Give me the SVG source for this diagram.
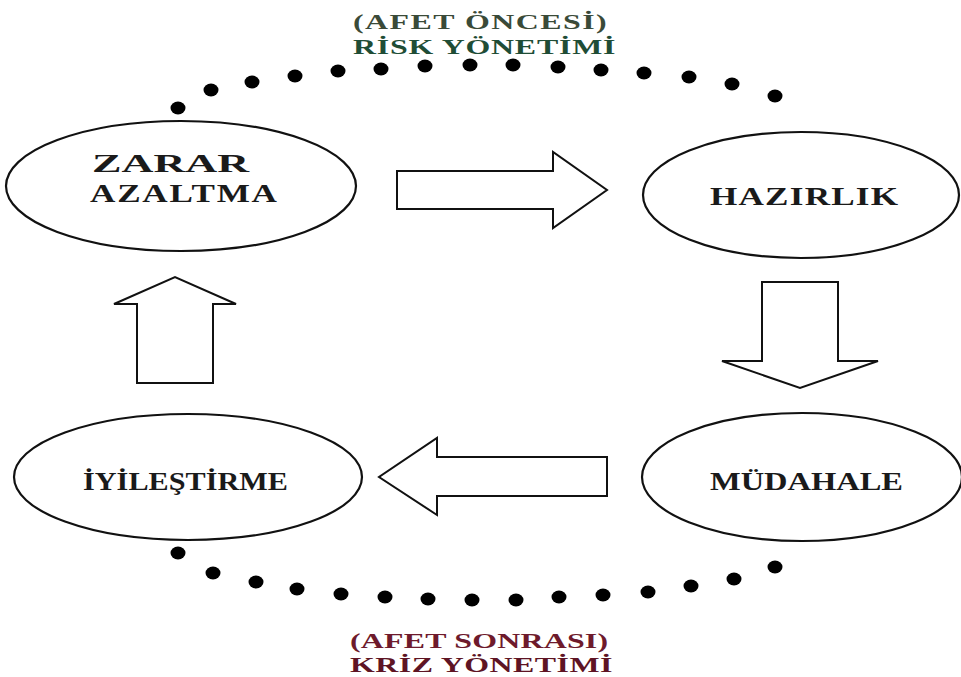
<svg xmlns="http://www.w3.org/2000/svg" width="961" height="677" viewBox="0 0 961 677">
<style>
.node{fill:#fff;stroke:#111;stroke-width:2.2}
.lbl{font-family:"Liberation Serif","Times New Roman",serif;font-weight:bold;font-size:26px;fill:#1a1a1a}
.ttl{font-family:"Liberation Serif","Times New Roman",serif;font-weight:bold;font-size:22px}
.arrow{fill:#fff;stroke:#111;stroke-width:2;stroke-linejoin:miter}
.dot{fill:#000}
</style>
<rect width="961" height="677" fill="#fff"/>
<g id="title-top">
<text class="ttl" transform="translate(353,29) scale(1.45,1)" x="0" y="0" textLength="175" lengthAdjust="spacing" fill="#3a4a38">(AFET ÖNCESİ)</text>
<text class="ttl" transform="translate(353,54) scale(1.45,1)" x="0" y="0" textLength="181" lengthAdjust="spacing" fill="#1f4d36">RİSK YÖNETİMİ</text>
</g>
<g id="title-bottom">
<text class="ttl" transform="translate(350,648) scale(1.45,1)" x="0" y="0" textLength="178" lengthAdjust="spacing" fill="#6e1a2c">(AFET SONRASI)</text>
<text class="ttl" transform="translate(350,672) scale(1.45,1)" x="0" y="0" textLength="181" lengthAdjust="spacing" fill="#5e1424">KRİZ YÖNETİMİ</text>
</g>
<g id="dots-top">
<ellipse class="dot" cx="178" cy="108" rx="7.5" ry="6.5"/>
<ellipse class="dot" cx="211" cy="90" rx="7.5" ry="6.5"/>
<ellipse class="dot" cx="252" cy="82" rx="7.5" ry="6.5"/>
<ellipse class="dot" cx="295" cy="76" rx="7.5" ry="6.5"/>
<ellipse class="dot" cx="338" cy="71" rx="7.5" ry="6.5"/>
<ellipse class="dot" cx="381" cy="69" rx="7.5" ry="6.5"/>
<ellipse class="dot" cx="425" cy="66" rx="7.5" ry="6.5"/>
<ellipse class="dot" cx="470" cy="65" rx="7.5" ry="6.5"/>
<ellipse class="dot" cx="513" cy="65" rx="7.5" ry="6.5"/>
<ellipse class="dot" cx="558" cy="67" rx="7.5" ry="6.5"/>
<ellipse class="dot" cx="601" cy="70" rx="7.5" ry="6.5"/>
<ellipse class="dot" cx="644" cy="73" rx="7.5" ry="6.5"/>
<ellipse class="dot" cx="689" cy="77" rx="7.5" ry="6.5"/>
<ellipse class="dot" cx="732" cy="84" rx="7.5" ry="6.5"/>
<ellipse class="dot" cx="775" cy="96" rx="7.5" ry="6.5"/>
</g>
<g id="dots-bottom">
<ellipse class="dot" cx="178" cy="553" rx="7.5" ry="6.5"/>
<ellipse class="dot" cx="213" cy="573" rx="7.5" ry="6.5"/>
<ellipse class="dot" cx="256" cy="582" rx="7.5" ry="6.5"/>
<ellipse class="dot" cx="297" cy="589" rx="7.5" ry="6.5"/>
<ellipse class="dot" cx="341" cy="594" rx="7.5" ry="6.5"/>
<ellipse class="dot" cx="385" cy="597" rx="7.5" ry="6.5"/>
<ellipse class="dot" cx="428" cy="599" rx="7.5" ry="6.5"/>
<ellipse class="dot" cx="472" cy="600" rx="7.5" ry="6.5"/>
<ellipse class="dot" cx="516" cy="600" rx="7.5" ry="6.5"/>
<ellipse class="dot" cx="559" cy="597" rx="7.5" ry="6.5"/>
<ellipse class="dot" cx="603" cy="595" rx="7.5" ry="6.5"/>
<ellipse class="dot" cx="648" cy="592" rx="7.5" ry="6.5"/>
<ellipse class="dot" cx="691" cy="586" rx="7.5" ry="6.5"/>
<ellipse class="dot" cx="734" cy="579" rx="7.5" ry="6.5"/>
<ellipse class="dot" cx="775" cy="567" rx="7.5" ry="6.5"/>
</g>
<g id="node-zarar">
<ellipse class="node" cx="181" cy="186" rx="175" ry="65"/>
<text class="lbl" transform="translate(92,172) scale(1.7,1)" x="0" y="0">ZARAR</text>
<text class="lbl" transform="translate(90,202) scale(1.35,1)" x="0" y="0" textLength="138.5" lengthAdjust="spacing">AZALTMA</text>
</g>
<g id="node-hazirlik">
<ellipse class="node" cx="801" cy="195" rx="158" ry="63"/>
<text class="lbl" transform="translate(710,205) scale(1.35,1)" x="0" y="0" textLength="139.3" lengthAdjust="spacing">HAZIRLIK</text>
</g>
<g id="node-mudahale">
<ellipse class="node" cx="802" cy="477" rx="160" ry="64"/>
<text class="lbl" transform="translate(710,490) scale(1.25,1)" x="0" y="0" textLength="154.4" lengthAdjust="spacing">MÜDAHALE</text>
</g>
<g id="node-iyilestirme">
<ellipse class="node" cx="188" cy="477" rx="174" ry="63"/>
<text class="lbl" transform="translate(83,490) scale(1.16,1)" x="0" y="0" textLength="176.7" lengthAdjust="spacing">İYİLEŞTİRME</text>
</g>
<g id="connectors">
<polygon class="arrow" points="397,171 553,171 553,152 607,190 553,228 553,209 397,209"/>
<polygon class="arrow" points="762,282 838,282 838,361 878,361 800,388 722,361 762,361"/>
<polygon class="arrow" points="607,457 437,457 437,438 379,477 437,515 437,496 607,496"/>
<polygon class="arrow" points="137,383 137,304 114,304 175,277 236,304 213,304 213,383"/>
</g>
</svg>
